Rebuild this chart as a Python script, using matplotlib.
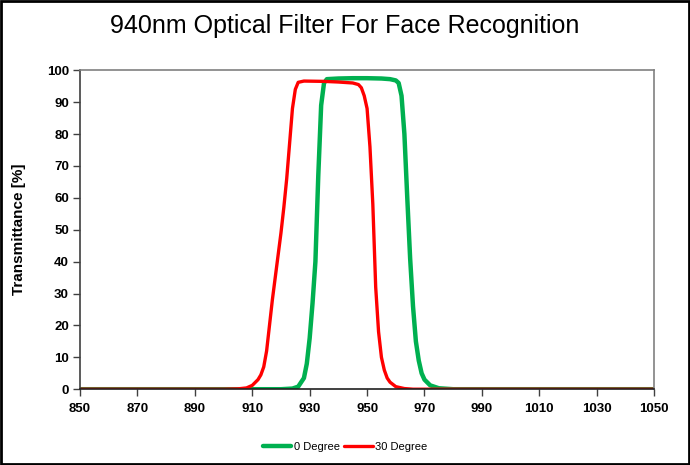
import matplotlib
matplotlib.use('Agg')
from matplotlib import pyplot as plt
from matplotlib.patches import Rectangle

plt.rcParams['font.family'] = ['Liberation Sans', 'DejaVu Sans']

# wavelength [nm] and transmittance [%]
wl_0 = [850, 900, 920, 924, 926, 928, 929, 930, 931, 932, 933, 934, 935, 936, 940, 945,
        950, 955, 958, 960, 961, 962, 963, 964, 965, 966, 967, 968, 969, 970, 972, 975, 980, 1050]
t_0 = [0, 0, 0, 0.2, 0.8, 3.5, 8, 16, 27, 40, 67, 89, 96, 97.2, 97.4, 97.5,
       97.5, 97.4, 97.2, 96.8, 96, 92, 80, 60, 41, 26, 15, 9, 5, 3, 1.2, 0.3, 0, 0]

wl_30 = [850, 900, 905, 908, 910, 912, 913, 914, 915, 916, 917, 918, 919, 920, 921, 922, 923,
         924, 925, 926, 928, 935, 940, 945, 947, 948, 949, 950, 951, 952, 953, 954, 955, 956,
         957, 958, 960, 963, 966, 1050]
t_30 = [0, 0, 0.1, 0.4, 1.2, 3, 4.5, 7, 12, 20, 28, 35, 42, 49, 57, 66, 77,
        88, 94, 96.2, 96.6, 96.5, 96.3, 96, 95.5, 94.5, 92, 88, 76, 58, 32, 18, 10, 6,
        3.5, 2.2, 0.8, 0.2, 0, 0]

xticks = list(range(850, 1051, 20))
yticks = list(range(0, 101, 10))

fig = plt.figure(figsize=(6.9, 4.65), dpi=100)
ax = fig.add_axes([0.116, 0.163, 0.832, 0.686])

ax.plot(wl_0, t_0, color='#00B050', lw=3.2, label='0 Degree', solid_capstyle='round')
ax.plot(wl_30, t_30, color='#FF0000', lw=2.4, label='30 Degree', solid_capstyle='round')

ax.set_xlim(850, 1050)
ax.set_ylim(0, 100)
ax.set_xticks(xticks)
ax.set_yticks(yticks)
ax.tick_params(direction='out', length=5, width=1, color='#404040', labelsize=9.5, pad=3)
ax.tick_params(axis='x', pad=5)
for lab in ax.get_xticklabels() + ax.get_yticklabels():
    lab.set_fontweight('bold')

ax.spines['left'].set_color('#404040')
ax.spines['bottom'].set_color('#202020')
ax.spines['top'].set_color('#808080')
ax.spines['right'].set_color('#808080')
for s in ax.spines.values():
    s.set_linewidth(1.2)

ax.set_ylabel('Transmittance [%]', fontsize=11, fontweight='bold', labelpad=15)

fig.text(0.5, 0.944, '940nm Optical Filter For Face Recognition', ha='center', va='center',
         fontsize=18)

leg = fig.legend(loc='center', bbox_to_anchor=(0.5, 0.038), ncol=2, frameon=False,
                 fontsize=8, handlelength=2.6, handletextpad=0.2, columnspacing=0.4)

fig.patches.append(Rectangle((0.002, 0.003), 0.996, 0.994, transform=fig.transFigure,
                             fill=False, edgecolor='black', lw=2))

fig.savefig('out.png', dpi=100)
